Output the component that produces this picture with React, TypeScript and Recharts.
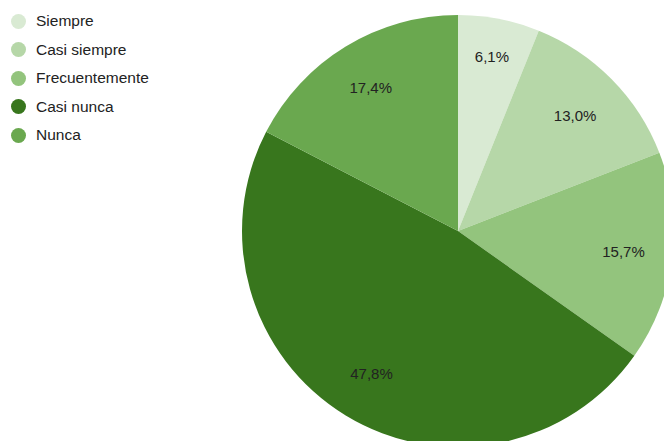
import { PieChart, Pie, Cell } from 'recharts';

const categories = ['Siempre', 'Casi siempre', 'Frecuentemente', 'Casi nunca', 'Nunca'];
const percentages = [6.1, 13.0, 15.7, 47.8, 17.4];
const colors = ['#d9ead3', '#b6d7a8', '#93c47d', '#38761d', '#6aa84f'];
// label distance from centre, as a share of the radius (small slice pushed outward)
const labelRadius = [0.824, 0.762, 0.772, 0.77, 0.777];

const data = categories.map((name, i) => ({ name, value: percentages[i] }));

const RAD = Math.PI / 180;
const FONT = 'Arial, "Liberation Sans", sans-serif';

const renderLabel = (props: any) => {
  const { cx, cy, midAngle, outerRadius, value, index } = props;
  const r = outerRadius * labelRadius[index];
  const x = cx + r * Math.cos(-midAngle * RAD);
  const y = cy + r * Math.sin(-midAngle * RAD);
  return (
    <text
      x={x}
      y={y}
      textAnchor="middle"
      dominantBaseline="central"
      fill="#222222"
      style={{ fontSize: '15px', fontFamily: FONT }}
    >
      {value.toFixed(1).replace('.', ',') + '%'}
    </text>
  );
};

function LegendBox() {
  return (
    <div style={{ position: 'absolute', left: 0, top: 7, fontFamily: FONT, fontSize: '15.5px', color: '#222222' }}>
      {categories.map((name, i) => (
        <div key={name} style={{ display: 'flex', alignItems: 'center', height: '28.5px' }}>
          <span
            style={{
              display: 'inline-block',
              width: '15px',
              height: '15px',
              borderRadius: '50%',
              background: colors[i],
              marginLeft: '11px',
              marginRight: '10px',
            }}
          />
          <span>{name}</span>
        </div>
      ))}
    </div>
  );
}

export default function App() {
  return (
    <div style={{ position: 'absolute', left: 0, top: 0, width: 664, height: 441, overflow: 'hidden', background: '#fff' }}>
      <PieChart width={664} height={441} margin={{ top: 0, right: 0, bottom: 0, left: 0 }}>
        <Pie
          data={data}
          dataKey="value"
          nameKey="name"
          cx={458}
          cy={231}
          outerRadius={216}
          startAngle={90}
          endAngle={-270}
          stroke="none"
          label={renderLabel}
          labelLine={false}
          isAnimationActive={false}
        >
          {data.map((d, i) => (
            <Cell key={d.name} fill={colors[i]} />
          ))}
        </Pie>
      </PieChart>
      <LegendBox />
    </div>
  );
}
